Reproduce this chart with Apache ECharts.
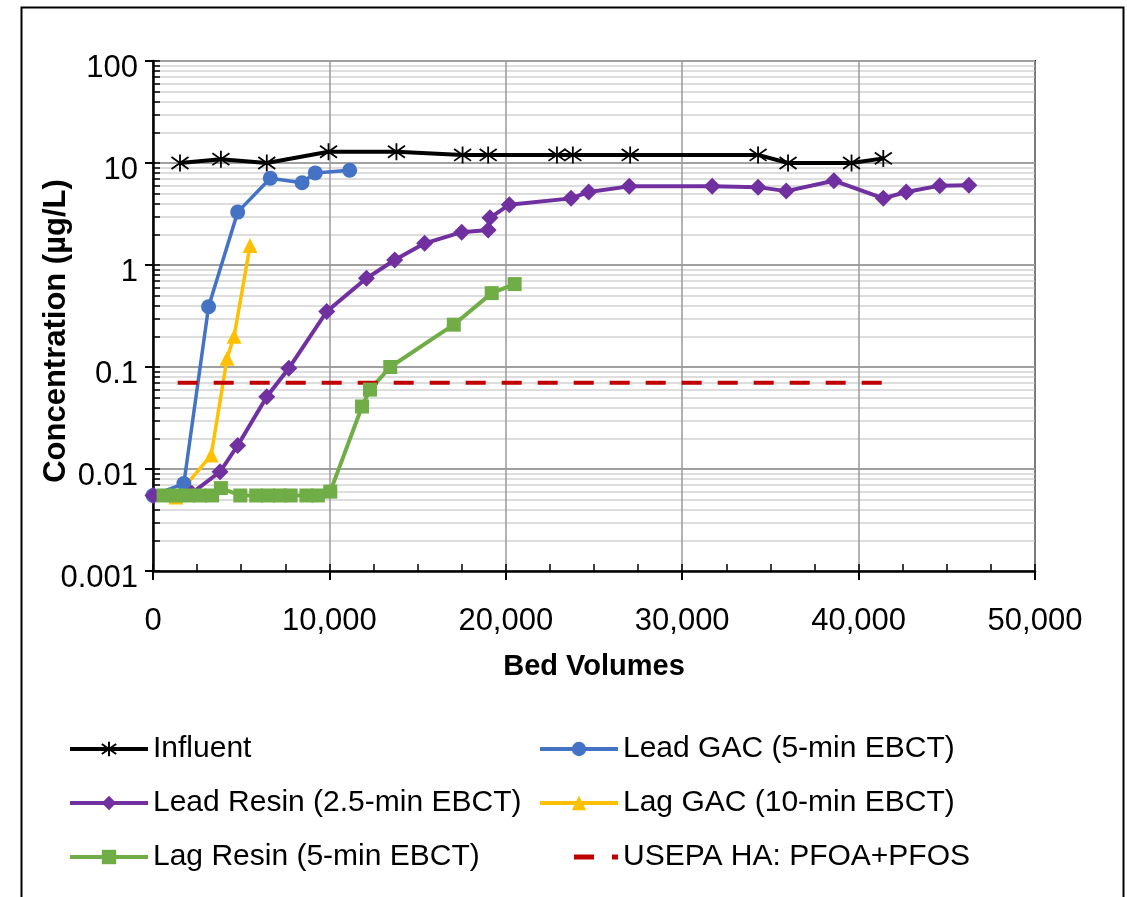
<!DOCTYPE html>
<html><head><meta charset="utf-8">
<script src="https://cdn.jsdelivr.net/npm/echarts@6/dist/echarts.min.js"></script>
<style>html,body{margin:0;padding:0;background:#fff}#c{width:1127px;height:897px}</style>
</head><body><div id="c"></div>
<script>
// Bed volumes (x) and concentration in µg/L (y)
const influent = [[1530,10],[3850,10.9],[6450,10],[9950,12.9],[13800,12.9],[17550,12],[19000,12],[22900,12],[23800,12],[27050,12],[34300,12],[36000,10],[39600,10],[41400,11.1]];
const leadGAC = [[0,0.0055],[1750,0.0072],[3150,0.39],[4800,3.3],[6650,7.1],[8450,6.4],[9200,8.0],[11150,8.5]];
const leadResin = [[0,0.0055],[2200,0.0058],[3800,0.0094],[4800,0.017],[6450,0.051],[7700,0.097],[9850,0.35],[12100,0.74],[13700,1.12],[15400,1.63],[17500,2.1],[19000,2.2],[19100,2.9],[20200,3.9],[23700,4.5],[24700,5.2],[27000,5.9],[31700,5.9],[34300,5.8],[35900,5.3],[38600,6.7],[41400,4.5],[42700,5.2],[44600,6.0],[46250,6.05]];
const lagGAC = [[1300,0.0053],[3300,0.0137],[4200,0.122],[4600,0.2],[5500,1.55]];
const lagResin = [[600,0.0055],[1300,0.0055],[2000,0.0055],[2650,0.0055],[3350,0.0055],[3850,0.0065],[4950,0.0055],[5850,0.0055],[6500,0.0055],[7200,0.0055],[7800,0.0055],[8700,0.0055],[9350,0.0055],[10050,0.006],[11850,0.041],[12300,0.06],[13450,0.1],[17050,0.26],[19200,0.53],[20500,0.65]];
const usepaHA = [[1400,0.07],[41500,0.07]];
const xMin = 0, xMax = 50000, xInterval = 10000, xMinorInterval = 2500;
const yMin = 0.001, yMax = 100;
const names = ['Influent','Lead GAC (5-min EBCT)','Lead Resin (2.5-min EBCT)','Lag GAC (10-min EBCT)','Lag Resin (5-min EBCT)','USEPA HA: PFOA+PFOS'];

const FONT = "'Liberation Sans', Arial, sans-serif";
const asterisk = 'path://M5 0L5 10M0.8 1.5L9.2 8.5M0.8 8.5L9.2 1.5';
const dashIcon = 'path://M0 -6.5M78 11.5M34 0H54V5H34ZM72 0H78V5H72Z';

const chart = echarts.init(document.getElementById('c'), null, {renderer:'canvas'});
const legendCommon = {
  orient:'vertical', itemWidth:78, itemHeight:18, itemGap:14, top:729, padding:0,
  lineStyle:{width:4},
  textStyle:{fontFamily:FONT, fontSize:30, color:'#000', lineHeight:40}
};
chart.setOption({
  animation:false,
  backgroundColor:'#fff',
  textStyle:{fontFamily:FONT},
  grid:{left:153, right:92, top:61, bottom:326, show:true, borderColor:'#222', borderWidth:2, backgroundColor:'transparent'},
  legend:[
    Object.assign({left:68, data:[names[0],names[2],names[4]]}, legendCommon),
    Object.assign({left:538, data:[names[1],names[3],{name:names[5], icon:dashIcon, itemStyle:{color:'#C00000'}}]}, legendCommon)
  ],
  xAxis:[{
    type:'value', min:xMin, max:xMax, interval:xInterval,
    axisLine:{lineStyle:{color:'#000', width:2.5}},
    axisTick:{show:true, inside:false, length:9, lineStyle:{color:'#000', width:2}},
    axisLabel:{fontFamily:FONT, fontSize:31, color:'#000', margin:35, formatter:v=>v.toLocaleString('en-US')},
    splitLine:{show:true, lineStyle:{color:'#9a9a9a', width:1.5}},
    name:'Bed Volumes', nameLocation:'middle', nameGap:81,
    nameTextStyle:{fontFamily:FONT, fontSize:29, fontWeight:'bold', color:'#000'}
  },{
    type:'value', min:xMin, max:xMax, interval:xMinorInterval, position:'bottom',
    axisLine:{show:false},
    axisTick:{show:true, inside:true, length:7, lineStyle:{color:'#000', width:1.5}},
    axisLabel:{show:false}, splitLine:{show:false}
  }],
  yAxis:[{
    type:'log', logBase:10, min:yMin, max:yMax, splitNumber:5,
    axisLine:{lineStyle:{color:'#000', width:2.5}},
    axisTick:{show:true, inside:false, length:8, lineStyle:{color:'#000', width:2}},
    axisLabel:{color:'#000', margin:15, formatter:v=>'{s| }\n{t|' + String(v) + '}',
      rich:{s:{fontSize:10, height:14, lineHeight:14}, t:{fontFamily:FONT, fontSize:31, lineHeight:31, color:'#000'}}},
    splitLine:{show:true, lineStyle:{color:'#a0a0a0', width:2}},
    minorTick:{show:false, splitNumber:9},
    minorSplitLine:{show:true, lineStyle:{color:'#d2d2d2', width:1.5}}
  },{
    type:'log', logBase:10, min:yMin, max:yMax, splitNumber:5, position:'left',
    axisLine:{show:false},
    axisTick:{show:true, inside:true, length:7, lineStyle:{color:'#000', width:1.5}},
    minorTick:{show:true, splitNumber:9, length:7, lineStyle:{color:'#000', width:1.5}},
    axisLabel:{show:false}, splitLine:{show:false}
  }],
  graphic:[
    {type:'rect', left:19, top:5, silent:true, shape:{width:1102, height:910}, style:{fill:'none', stroke:'#000', lineWidth:2}},
    {type:'text', x:56, y:331, rotation:Math.PI/2, silent:true,
     style:{text:'Concentration (µg/L)', fontFamily:FONT, fontSize:31, fontWeight:'bold', fill:'#000', align:'center', verticalAlign:'middle'}}
  ],
  series:[
    {name:names[0], type:'line', data:influent, symbol:asterisk, symbolSize:17, showAllSymbol:true,
     lineStyle:{color:'#000', width:4}, itemStyle:{color:'#000', borderColor:'#000', borderWidth:1.8}},
    {name:names[1], type:'line', data:leadGAC, symbol:'circle', symbolSize:15, showAllSymbol:true,
     lineStyle:{color:'#4472C4', width:3.5}, itemStyle:{color:'#4472C4'}},
    {name:names[2], type:'line', data:leadResin, symbol:'diamond', symbolSize:17, showAllSymbol:true,
     lineStyle:{color:'#7030A0', width:4}, itemStyle:{color:'#7030A0'}},
    {name:names[3], type:'line', data:lagGAC, symbol:'triangle', symbolSize:15, showAllSymbol:true,
     lineStyle:{color:'#FFC000', width:3.5}, itemStyle:{color:'#FFC000'}},
    {name:names[4], type:'line', data:lagResin, symbol:'rect', symbolSize:14, showAllSymbol:true,
     lineStyle:{color:'#70AD47', width:4}, itemStyle:{color:'#70AD47'}},
    {name:names[5], type:'line', data:usepaHA, symbol:'none',
     lineStyle:{color:'#C00000', width:4, type:[20,16]}, itemStyle:{color:'#C00000'}}
  ]
});
</script></body></html>
